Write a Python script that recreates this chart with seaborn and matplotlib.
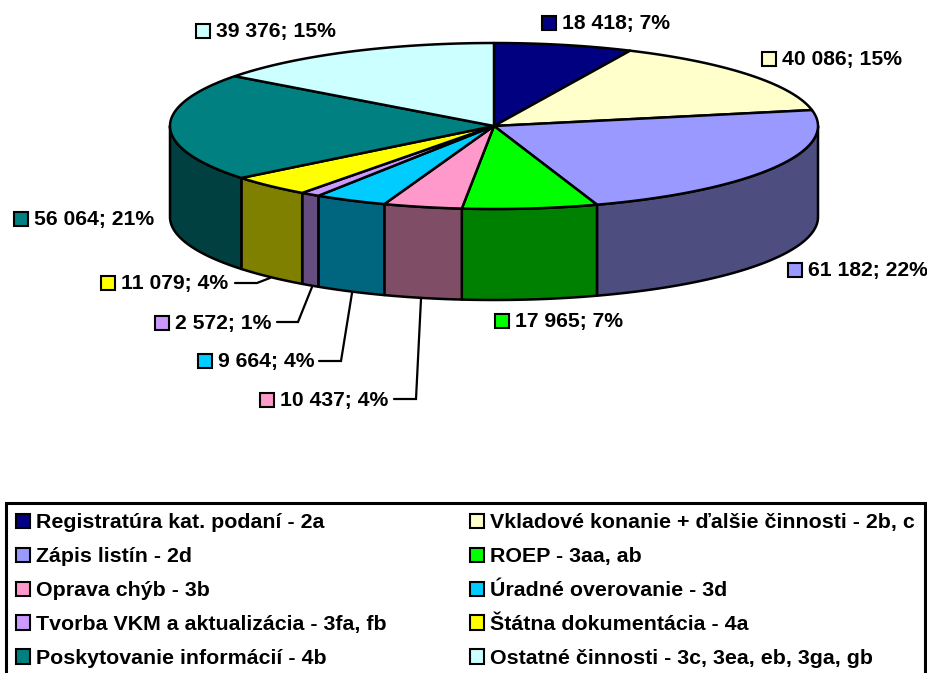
import numpy as np
import pandas as pd
import seaborn as sns
import matplotlib.pyplot as plt
from matplotlib.patches import Patch, Polygon, Rectangle

categories = [
    "Registratúra kat. podaní - 2a",
    "Vkladové konanie + ďalšie činnosti - 2b, c",
    "Zápis listín - 2d",
    "ROEP - 3aa, ab",
    "Oprava chýb - 3b",
    "Úradné overovanie - 3d",
    "Tvorba VKM a aktualizácia - 3fa, fb",
    "Štátna dokumentácia - 4a",
    "Poskytovanie informácií - 4b",
    "Ostatné činnosti - 3c, 3ea, eb, 3ga, gb",
]
values = [18418, 40086, 61182, 17965, 10437, 9664, 2572, 11079, 56064, 39376]
value_labels = ["18 418", "40 086", "61 182", "17 965", "10 437",
                "9 664", "2 572", "11 079", "56 064", "39 376"]
percents = [7, 15, 22, 7, 4, 4, 1, 4, 21, 15]
colors = ["#000080", "#FFFFCC", "#9999FF", "#00FF00", "#FF99CC",
          "#00CCFF", "#CC99FF", "#FFFF00", "#008080", "#CCFFFF"]

# label swatch position (left, top) in pixels of the picture
label_pos = [(542, 16), (762, 52), (788, 263), (495, 314), (260, 393),
             (198, 354), (155, 316), (101, 276), (14, 212), (196, 24)]
# leader lines, only for the small slices
leaders = {
    4: [(394, 399), (416, 399), (421, 299)],
    5: [(319, 361), (341, 361), (352, 293)],
    6: [(277, 322), (298, 322), (312, 287)],
    7: [(235, 283), (257, 283), (270, 278)],
}

sns.set_theme(style="white")
plt.rcParams["font.family"] = ["Liberation Sans", "DejaVu Sans"]

df = pd.DataFrame({"category": categories, "value": values, "color": colors})
df["end"] = df["value"].cumsum() / df["value"].sum() * 2 * np.pi
df["start"] = df["end"].shift(1, fill_value=0.0)
top_colors = sns.color_palette(df["color"].tolist())
side_colors = [tuple(c * 0.5 for c in col) for col in top_colors]

cx, cy, rx, ry, depth = 494, 126, 324, 83, 91
line = 1.8


def rim(a, b):
    t = np.linspace(a, b, max(int((b - a) * 120), 2))
    return np.column_stack([cx + rx * np.sin(t), cy - ry * np.cos(t)])


fig = plt.figure(figsize=(9.28, 6.73), dpi=100)
ax = fig.add_axes([0, 0, 1, 1])
ax.set_xlim(0, 928)
ax.set_ylim(673, 0)
ax.axis("off")

# side walls, only the front half of the cylinder shows
for i, row in df.iterrows():
    a, b = max(row["start"], np.pi / 2), min(row["end"], 3 * np.pi / 2)
    if b <= a:
        continue
    edge = rim(a, b)
    wall = np.vstack([edge, edge[::-1] + [0, depth]])
    ax.add_patch(Polygon(wall, closed=True, facecolor=side_colors[i],
                         edgecolor="black", linewidth=line, joinstyle="round", zorder=2))

# top face
for i, row in df.iterrows():
    wedge = np.vstack([[cx, cy], rim(row["start"], row["end"])])
    ax.add_patch(Polygon(wedge, closed=True, facecolor=top_colors[i],
                         edgecolor="black", linewidth=line, joinstyle="round", zorder=3))

# leader lines
for i, pts in leaders.items():
    xs, ys = zip(*pts)
    ax.plot(xs, ys, color="black", linewidth=1.6, solid_joinstyle="miter", zorder=4)

# data labels
for i, (x, y) in enumerate(label_pos):
    ax.add_patch(Rectangle((x, y), 14, 14, facecolor=top_colors[i], edgecolor="black",
                           linewidth=1.5, zorder=5))
    ax.text(x + 20, y + 7.5, f"{value_labels[i]}; {percents[i]}%", fontsize=15.2,
            fontweight="bold", color="black", va="center", ha="left", zorder=5)

# legend, matplotlib fills by column so the rows are swapped around
handles = [Patch(facecolor=top_colors[i], edgecolor="black", linewidth=1.5) for i in range(10)]
order = [0, 2, 4, 6, 8, 1, 3, 5, 7, 9]
leg = ax.legend([handles[i] for i in order], [categories[i] for i in order],
                ncol=2, loc="lower left", bbox_to_anchor=(6 / 928, -5 / 673),
                bbox_transform=ax.transAxes, frameon=True, fancybox=False, edgecolor="black",
                framealpha=1, borderaxespad=0, borderpad=0.47, labelcolor="black",
                prop={"size": 15.4, "weight": "bold"},
                handlelength=0.65, handleheight=0.65, handletextpad=0.28,
                labelspacing=0.695, columnspacing=3.9)
leg.get_frame().set_linewidth(2.2)

fig.savefig("out.png", dpi=100, facecolor="white")
